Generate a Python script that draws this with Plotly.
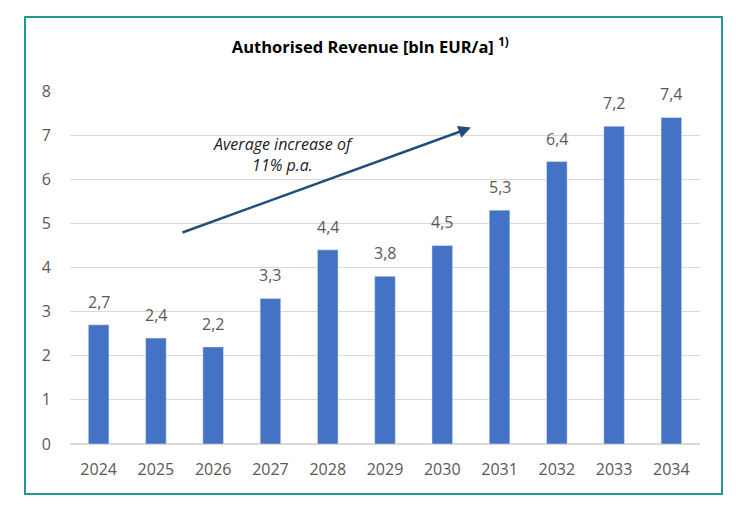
import plotly.graph_objects as go

years = ["2024", "2025", "2026", "2027", "2028", "2029", "2030", "2031", "2032", "2033", "2034"]
revenue = [2.7, 2.4, 2.2, 3.3, 4.4, 3.8, 4.5, 5.3, 6.4, 7.2, 7.4]
labels = ["2,7", "2,4", "2,2", "3,3", "4,4", "3,8", "4,5", "5,3", "6,4", "7,2", "7,4"]

FONT = "Open Sans"
GRAY = "#595959"

fig = go.Figure(go.Bar(
    x=years, y=revenue,
    marker=dict(color="#4472C4"), hoverinfo="x+y",
))

for i, (v, lab) in enumerate(zip(revenue, labels)):
    fig.add_annotation(x=i, y=v, text=lab, showarrow=False, yanchor="bottom", yshift=10,
                       font=dict(family=FONT, size=16, color=GRAY))

fig.update_layout(
    width=736, height=511,
    margin=dict(l=70, r=36, t=91, b=67),
    paper_bgcolor="white", plot_bgcolor="white",
    showlegend=False, bargap=0.64,
    title=dict(text="<b>Authorised Revenue [bln EUR/a]</b> <sup><b>1)</b></sup>",
               x=0.503, xanchor="center", y=0.908, yanchor="middle",
               font=dict(family=FONT, size=16.5, color="black")),
    xaxis=dict(type="category", tickfont=dict(family=FONT, size=16, color=GRAY), showgrid=False,
               ticks="", showline=False, ticklabelstandoff=14),
    yaxis=dict(range=[0, 8], dtick=1, tickfont=dict(family=FONT, size=16, color=GRAY),
               gridcolor="#d9d9d9", gridwidth=1, zeroline=True, zerolinecolor="#d9d9d9",
               ticks="", ticklabelstandoff=18),
)

fig.add_shape(type="rect", xref="paper", yref="paper",
              x0=-0.0714, x1=1.035, y0=-0.1416, y1=1.2096,
              line=dict(color="#1E9A8C", width=2), fillcolor="rgba(0,0,0,0)", layer="above")

fig.add_annotation(x=6.5, y=7.17, ax=1.437, ay=4.78, xref="x", yref="y", axref="x", ayref="y",
                   showarrow=True, arrowhead=2, arrowsize=1, arrowwidth=2.5, arrowcolor="#1F4E79",
                   text="")
fig.add_annotation(x=3.22, y=6.55, xref="x", yref="y", showarrow=False,
                   text="<i>Average increase of<br>11% p.a.</i>",
                   font=dict(family=FONT, size=16, color="#222222"), align="center")

fig.write_html("out.html")
